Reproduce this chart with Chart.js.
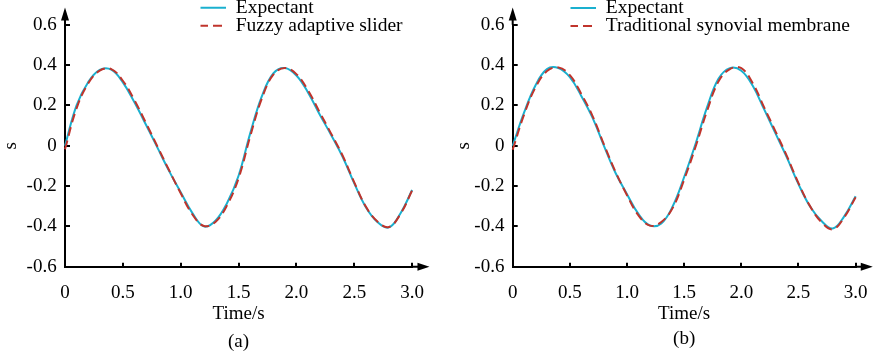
<!DOCTYPE html>
<html>
<head>
<meta charset="utf-8">
<script src="https://cdn.jsdelivr.net/npm/chart.js@4.4.1/dist/chart.umd.min.js"></script>
<style>
  body { margin: 0; background: #fff; }
  #wrap { position: relative; width: 886px; height: 354px; }
  canvas { position: absolute; top: 0; }
</style>
</head>
<body>
<div id="wrap">
  <canvas id="chartA" width="443" height="354" style="left:0"></canvas>
  <canvas id="chartB" width="443" height="354" style="left:443px"></canvas>
</div>
<script>
// values

var timeA = [0, 0.1, 0.2, 0.3, 0.4, 0.5, 0.6, 0.7, 0.8, 0.9, 1.0, 1.1, 1.2, 1.3, 1.4, 1.5,
  1.6, 1.7, 1.8, 1.9, 2.0, 2.1, 2.2, 2.3, 2.4, 2.5, 2.6, 2.7, 2.8, 2.9, 3.0];
var expectantA = [0, 0.2, 0.315, 0.376, 0.377, 0.314, 0.215, 0.104, -0.011, -0.126, -0.231,
  -0.333, -0.4, -0.372, -0.285, -0.149, 0.06, 0.243, 0.358, 0.385, 0.348, 0.264, 0.156,
  0.053, -0.056, -0.187, -0.305, -0.378, -0.405, -0.335, -0.22];
var fuzzyA = [-0.018, 0.185, 0.308, 0.372, 0.38, 0.322, 0.226, 0.112, -0.005, -0.122, -0.236,
  -0.34, -0.398, -0.378, -0.296, -0.162, 0.045, 0.232, 0.352, 0.385, 0.355, 0.275, 0.167,
  0.06, -0.05, -0.182, -0.302, -0.376, -0.403, -0.338, -0.222];

var timeB = [0, 0.1, 0.2, 0.3, 0.4, 0.5, 0.6, 0.7, 0.8, 0.9, 1.0, 1.1, 1.2, 1.3, 1.4, 1.5,
  1.6, 1.7, 1.8, 1.9, 2.0, 2.1, 2.2, 2.3, 2.4, 2.5, 2.6, 2.7, 2.8, 2.9, 3.0, 3.03];
var expectantB = [0, 0.165, 0.3, 0.38, 0.385, 0.34, 0.247, 0.137, -0.003, -0.135, -0.24,
  -0.338, -0.395, -0.385, -0.3, -0.155, 0.01, 0.19, 0.332, 0.385, 0.372, 0.297, 0.18,
  0.06, -0.06, -0.19, -0.3, -0.372, -0.41, -0.35, -0.25, -0.22];
var traditionalB = [-0.02, 0.155, 0.29, 0.37, 0.388, 0.35, 0.257, 0.146, 0.004, -0.13, -0.245,
  -0.345, -0.396, -0.378, -0.308, -0.168, -0.005, 0.172, 0.318, 0.38, 0.385, 0.31, 0.19,
  0.07, -0.053, -0.185, -0.298, -0.378, -0.414, -0.355, -0.255, -0.225];

var xTickLabels = ["0", "0.5", "1.0", "1.5", "2.0", "2.5", "3.0"];
var yTickLabels = ["-0.6", "-0.4", "-0.2", "0", "0.2", "0.4", "0.6"];

var cyan = "#1ab0cf";
var red = "#c0342c";
var serif = "'Liberation Serif', 'Times New Roman', serif";

// where the axis arrows end, in data units
var xArrowEnd = 3.15;
var yArrowEnd = 0.685;

Chart.defaults.font.family = serif;
Chart.defaults.font.size = 19;
Chart.defaults.color = "#000";

function toPoints(times, values) {
  return values.map(function (v, i) { return { x: times[i], y: v }; });
}

// axis lines run on past the last tick and end in an arrow
var axisArrows = {
  id: "axisArrows",
  afterDraw: function (chart) {
    var ctx = chart.ctx;
    var area = chart.chartArea;
    var xEnd = chart.scales.x.getPixelForValue(xArrowEnd);
    var yEnd = chart.scales.y.getPixelForValue(yArrowEnd);
    ctx.save();
    ctx.strokeStyle = "#000";
    ctx.fillStyle = "#000";
    ctx.lineWidth = 2;
    ctx.beginPath();
    ctx.moveTo(area.right, area.bottom);
    ctx.lineTo(xEnd - 6, area.bottom);
    ctx.moveTo(area.left, area.top);
    ctx.lineTo(area.left, yEnd + 6);
    ctx.stroke();
    ctx.beginPath();
    ctx.moveTo(xEnd, area.bottom);
    ctx.lineTo(xEnd - 12, area.bottom - 4);
    ctx.lineTo(xEnd - 12, area.bottom + 4);
    ctx.closePath();
    ctx.moveTo(area.left, yEnd);
    ctx.lineTo(area.left - 4, yEnd + 13);
    ctx.lineTo(area.left + 4, yEnd + 13);
    ctx.closePath();
    ctx.fill();
    ctx.restore();
  }
};

// the legend floats over the top of the plot
var legendPlacer = {
  id: "legendPlacer",
  afterLayout: function (chart, args, opts) {
    var lg = chart.legend;
    if (!lg) return;
    lg.left = opts.left;
    lg.top = opts.top;
    lg.right = opts.left + 320;
    lg.bottom = opts.top + 60;
  }
};

// legend samples take the dataset line style, listed in dataset order
function legendLabels(chart) {
  var items = Chart.defaults.plugins.legend.labels.generateLabels(chart);
  items.forEach(function (it) {
    var ds = chart.data.datasets[it.datasetIndex];
    it.lineDash = ds.borderDash || [];
    it.lineWidth = ds.borderWidth;
    it.strokeStyle = ds.borderColor;
  });
  return items.sort(function (a, b) { return a.datasetIndex - b.datasetIndex; });
}

function makePanel(id, cfg) {
  return new Chart(document.getElementById(id), {
    type: "line",
    data: {
      datasets: [
        {
          label: "Expectant",
          data: toPoints(cfg.time, cfg.expectant),
          borderColor: cyan,
          backgroundColor: cyan,
          borderWidth: 2,
          pointRadius: 0,
          pointStyle: "line",
          tension: 0.4,
          fill: false,
          clip: false,
          order: 1
        },
        {
          label: cfg.otherLabel,
          data: toPoints(cfg.time, cfg.other),
          borderColor: red,
          backgroundColor: red,
          borderWidth: 2,
          borderDash: [9, 5],
          pointRadius: 0,
          pointStyle: "line",
          tension: 0.4,
          fill: false,
          clip: false,
          order: 0
        }
      ]
    },
    options: {
      responsive: false,
      animation: false,
      elements: { line: { capBezierPoints: false } },
      layout: { padding: cfg.padding },
      scales: {
        x: {
          type: "linear",
          min: 0,
          max: 3.0,
          ticks: {
            stepSize: 0.5,
            padding: cfg.xTickPad,
            maxRotation: 0,
            autoSkip: false,
            font: { family: serif, size: 19 },
            callback: function (v, i) { return xTickLabels[i]; }
          },
          grid: { drawOnChartArea: false, drawTicks: true, tickLength: -4, color: "#000", lineWidth: 2 },
          border: { display: true, color: "#000", width: 2 },
          title: {
            display: true, text: "Time/s",
            font: { family: serif, size: 19 },
            padding: { top: 0, bottom: cfg.xTitlePad }
          },
          afterFit: function (s) { s.height = cfg.xHeight; }
        },
        y: {
          min: -0.6,
          max: 0.6,
          ticks: {
            stepSize: 0.2,
            padding: 13.3,
            font: { family: serif, size: 19 },
            callback: function (v, i) { return yTickLabels[i]; }
          },
          grid: { drawOnChartArea: false, drawTicks: true, tickLength: -5, color: "#000", lineWidth: 2 },
          border: { display: true, color: "#000", width: 2 },
          title: {
            display: true, text: "s",
            font: { family: serif, size: 19 },
            padding: { top: cfg.yTitlePad, bottom: 0 }
          },
          afterFit: function (s) { s.width = cfg.yWidth; }
        }
      },
      plugins: {
        legend: {
          position: "chartArea",
          align: "start",
          labels: {
            usePointStyle: true,
            pointStyle: "line",
            pointStyleWidth: 27,
            padding: -1.5,
            color: "#000",
            font: { family: serif, size: 19.5 },
            generateLabels: legendLabels
          }
        },
        legendPlacer: cfg.legendAt,
        title: {
          display: true,
          text: cfg.caption,
          position: "bottom",
          fullSize: false,
          padding: 0,
          color: "#000",
          font: { family: serif, size: 19, weight: "normal" }
        },
        tooltip: { enabled: false }
      }
    },
    plugins: [axisArrows, legendPlacer]
  });
}

var chartA = makePanel("chartA", {
  time: timeA,
  expectant: expectantA,
  other: fuzzyA,
  otherLabel: "Fuzzy adaptive slider",
  caption: "(a)",
  padding: { left: 0, right: 25, top: 21, bottom: 0.6 },
  yWidth: 65,
  xHeight: 63.9,
  xTickPad: 19,
  xTitlePad: 5.2,
  yTitlePad: 0,
  legendAt: { left: 200.5, top: -0.5 }
});

var chartB = makePanel("chartB", {
  time: timeB,
  expectant: expectantB,
  other: traditionalB,
  otherLabel: "Traditional synovial membrane",
  caption: "(b)",
  padding: { left: 0, right: 21.7, top: 24.5, bottom: 3.1 },
  yWidth: 69.7,
  xHeight: 61.3,
  xTickPad: 18.5,
  xTitlePad: 2.7,
  yTitlePad: 9.9,
  legendAt: { left: 127.5, top: -0.25 }
});
</script>
</body>
</html>
